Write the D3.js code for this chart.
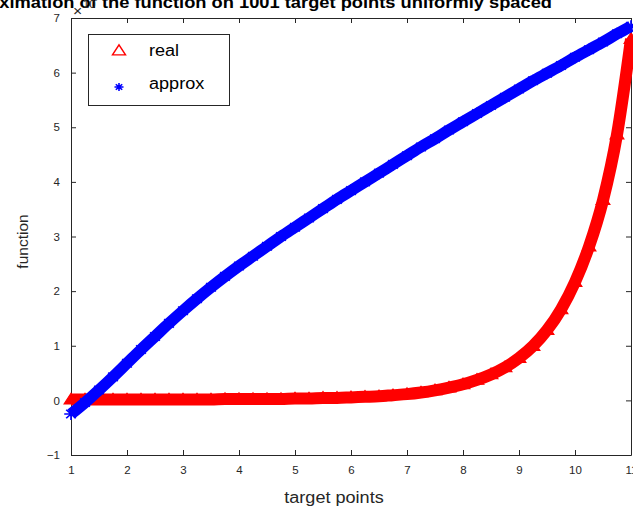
<!DOCTYPE html>
<html><head><meta charset="utf-8">
<script src="https://cdn.jsdelivr.net/npm/d3@7"></script>
<style>html,body{margin:0;padding:0;background:#fff;overflow:hidden}</style>
</head><body>
<svg id="chart" width="633" height="513"></svg>
<script>
// ---- data (values in units of 1e10) ----
const targetPoints = [1,1.25,1.5,1.75,2,2.25,2.5,2.75,3,3.25,3.5,3.75,4,4.25,4.5,4.75,5,5.25,5.5,5.75,6,6.25,6.5,6.75,7,7.25,7.5,7.75,8,8.25,8.5,8.75,9,9.25,9.5,9.75,10,10.25,10.5,10.75,11];
const realValues = [0,0,0,0,0,0,0,0,0,0,0,0.01,0.01,0.01,0.01,0.01,0.02,0.02,0.03,0.03,0.04,0.05,0.06,0.08,0.10,0.13,0.17,0.22,0.28,0.36,0.46,0.59,0.76,0.98,1.27,1.65,2.15,2.80,3.65,4.85,6.60];
const approxValues = [-0.25,-0.04,0.19,0.43,0.68,0.93,1.17,1.41,1.64,1.86,2.07,2.27,2.46,2.64,2.82,3.00,3.17,3.34,3.51,3.68,3.84,4.00,4.16,4.32,4.48,4.64,4.79,4.95,5.10,5.25,5.40,5.55,5.70,5.85,5.99,6.13,6.28,6.42,6.56,6.71,6.85];
const xTickValues = [1,2,3,4,5,6,7,8,9,10,11];
const yTickValues = [-1,0,1,2,3,4,5,6,7];
const seriesNames = ["real","approx"];
const titleText = "Approximation of the function on 1001 target points uniformly spaced";
const xLabelText = "target points";
const yLabelText = "function";

// ---- layout ----
const SX = 1.13; // horizontal stretch seen in the reference
const FONT = "'Liberation Sans', Arial, Helvetica, sans-serif";
const AX = "#262626";
const L = 71, R = 631, T = 18, B = 455;
const svg = d3.select("#chart").style("font-family", FONT);

const x = d3.scaleLinear().domain([1, 11]).range([L, R]);
const y = d3.scaleLinear().domain([-1, 7]).range([B, T]);

function stext(g, px, py, str, size, anchor, weight) {
  return g.append("text")
    .attr("transform", `translate(${px},${py}) scale(${SX},1)`)
    .attr("text-anchor", anchor || "start")
    .attr("font-size", size)
    .attr("font-weight", weight || "normal")
    .text(str);
}

// axes
const gx = svg.append("g").attr("transform", `translate(0,${B})`).style("color", AX)
  .call(d3.axisBottom(x).tickValues(xTickValues).tickSizeInner(-5).tickSizeOuter(0).tickPadding(10.5).tickFormat(d3.format("d")));
gx.selectAll("text").attr("font-size", 11.5).attr("font-family", FONT).attr("fill", AX);
const gxt = svg.append("g").attr("transform", `translate(0,${T})`).style("color", AX)
  .call(d3.axisTop(x).tickValues(xTickValues).tickSizeInner(-5).tickSizeOuter(0).tickFormat(""));
const gy = svg.append("g").attr("transform", `translate(${L},0)`).style("color", AX)
  .call(d3.axisLeft(y).tickValues(yTickValues).tickSizeInner(-5).tickSizeOuter(0).tickPadding(11).tickFormat(d3.format("d")));
gy.selectAll("text").attr("font-size", 11.5).attr("font-family", FONT).attr("fill", AX);
const gyr = svg.append("g").attr("transform", `translate(${R},0)`).style("color", AX)
  .call(d3.axisRight(y).tickValues(yTickValues).tickSizeInner(-5).tickSizeOuter(0).tickFormat(""));
[gx, gxt, gy, gyr].forEach(g => g.select(".domain").attr("stroke", AX));

// title (clipped on the left like the reference)
stext(svg, 552, 8, titleText, 16.2, "end", "bold").attr("fill", "#000");

// exponent label
stext(svg, 73, 15.5, "×", 14, "start").attr("fill", AX);
stext(svg, 83, 7.5, "10", 10, "start").attr("fill", AX);

// axis labels
stext(svg, 334, 503, xLabelText, 16, "middle").attr("fill", AX);
svg.append("text").attr("transform", `translate(28,241.5) rotate(-90)`)
  .attr("text-anchor", "middle").attr("font-size", 15.5).attr("fill", AX).text(yLabelText);

// markers
const asteriskType = {
  draw(ctx, size) {
    const r = Math.sqrt(size) / 2, d = r * Math.SQRT1_2;
    ctx.moveTo(-r, 0); ctx.lineTo(r, 0);
    ctx.moveTo(0, -r); ctx.lineTo(0, r);
    ctx.moveTo(-d, -d); ctx.lineTo(d, d);
    ctx.moveTo(-d, d); ctx.lineTo(d, -d);
  }
};
const triPath = d3.symbol().type(d3.symbolTriangle).size(66)();
const astPath = d3.symbol().type(asteriskType).size(144)();

const realData = targetPoints.map((t, i) => ({ x: t, y: realValues[i] }));
const approxData = targetPoints.map((t, i) => ({ x: t, y: approxValues[i] }));
const line = d3.line().x(d => x(d.x)).y(d => y(d.y)).curve(d3.curveMonotoneX);

const plot = svg.append("g");
// real series (red triangles)
plot.append("path").datum(realData).attr("d", line).attr("transform", "translate(0,-0.8)")
  .attr("fill", "none").attr("stroke", "#ff0000").attr("stroke-width", 12);
plot.selectAll(".tri").data(realData).join("path").attr("class", "tri")
  .attr("d", triPath).attr("transform", d => `translate(${x(d.x)},${y(d.y)}) scale(${SX},1)`)
  .attr("fill", "#ff0000").attr("stroke", "#ff0000").attr("stroke-width", 1);
// approx series (blue asterisks)
plot.append("path").datum(approxData).attr("d", line)
  .attr("fill", "none").attr("stroke", "#0000ff").attr("stroke-width", 11.5);
plot.selectAll(".ast").data(approxData).join("path").attr("class", "ast")
  .attr("d", astPath).attr("transform", d => `translate(${x(d.x)},${y(d.y)}) scale(${SX},1)`)
  .attr("fill", "none").attr("stroke", "#0000ff").attr("stroke-width", 1.5);

// legend
const lg = svg.append("g");
lg.append("rect").attr("x", 88.5).attr("y", 34.5).attr("width", 141).attr("height", 71)
  .attr("fill", "#fff").attr("stroke", AX).attr("stroke-width", 1);
lg.append("path").attr("d", d3.symbol().type(d3.symbolTriangle).size(58)())
  .attr("transform", `translate(119,51.5) scale(${SX},1)`)
  .attr("fill", "none").attr("stroke", "#ff0000").attr("stroke-width", 1.3);
lg.append("path").attr("d", d3.symbol().type(asteriskType).size(64)())
  .attr("transform", `translate(119,87) scale(${SX},1)`)
  .attr("fill", "none").attr("stroke", "#0000ff").attr("stroke-width", 1.4);
stext(lg, 149, 56, seriesNames[0], 16, "start").attr("fill", "#000");
stext(lg, 149, 88.5, seriesNames[1], 16, "start").attr("fill", "#000");
</script>
</body></html>
